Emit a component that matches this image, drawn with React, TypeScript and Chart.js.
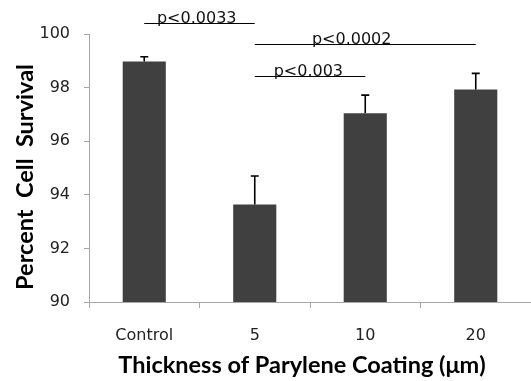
import React, { useEffect, useRef } from 'react';
import { Chart, registerables } from 'chart.js';
Chart.register(...registerables);

const categories = ['Control', '5', '10', '20'];
const survival = [98.97, 93.64, 97.04, 97.93];
const errorUpper = [0.18, 1.06, 0.68, 0.6];
const yMin = 90;
const yMax = 100;
const yStep = 2;
const sigLabels = ['p<0.0033', 'p<0.0002', 'p<0.003'];
const sigFrom = [0, 1, 1];
const sigTo = [1, 3, 2];
const sigLevel = [100.4, 99.62, 98.44];
const sigTextAt = [0.475, 1.877, 1.485];
const xTitle = 'Thickness of Parylene Coating (\u03bcm)';
const yTitle = 'Percent  Cell  Survival';

const TICK_FONT = '"DejaVu Sans"';
const TITLE_FONT = 'Lato';

const overlayPlugin = {
  id: 'overlay',
  afterDatasetsDraw(chart: any) {
    const ctx = chart.ctx;
    const meta = chart.getDatasetMeta(0);
    const ys = chart.scales.y;
    ctx.save();
    ctx.strokeStyle = '#000';
    ctx.lineWidth = 1.6;
    meta.data.forEach((bar: any, i: number) => {
      const top = ys.getPixelForValue(survival[i]);
      const et = ys.getPixelForValue(survival[i] + errorUpper[i]);
      ctx.beginPath();
      ctx.moveTo(bar.x, top);
      ctx.lineTo(bar.x, et);
      ctx.moveTo(bar.x - 4, et);
      ctx.lineTo(bar.x + 4, et);
      ctx.stroke();
    });
    ctx.restore();
  },
  afterDraw(chart: any) {
    const ctx = chart.ctx;
    const xs = chart.scales.x;
    const ys = chart.scales.y;
    ctx.save();
    // significance lines
    ctx.strokeStyle = '#000';
    ctx.lineWidth = 1;
    ctx.fillStyle = '#111';
    ctx.font = `16px ${TICK_FONT}`;
    ctx.textAlign = 'center';
    ctx.textBaseline = 'alphabetic';
    sigLabels.forEach((lab, i) => {
      const y = Math.round(ys.getPixelForValue(sigLevel[i])) + 0.5;
      const x1 = xs.getPixelForValue(sigFrom[i]);
      const x2 = xs.getPixelForValue(sigTo[i]);
      ctx.beginPath();
      ctx.moveTo(x1, y);
      ctx.lineTo(x2, y);
      ctx.stroke();
      ctx.fillText(lab, xs.getPixelForValue(sigTextAt[i]), y - 1);
    });
    // axis titles
    ctx.fillStyle = '#000';
    ctx.font = `bold 23.5px ${TITLE_FONT}`;
    ctx.textAlign = 'center';
    ctx.fillText(xTitle, 302, 373);
    ctx.translate(33, 177);
    ctx.rotate(-Math.PI / 2);
    ctx.fillText(yTitle, 0, 0);
    ctx.restore();
  },
};

export default function App() {
  const ref = useRef<HTMLCanvasElement>(null);
  useEffect(() => {
    if (!ref.current) return;
    const chart = new Chart(ref.current, {
      type: 'bar',
      data: {
        labels: categories,
        datasets: [
          {
            data: survival,
            backgroundColor: '#404040',
            borderWidth: 0,
            categoryPercentage: 1,
            barPercentage: 0.39,
          },
        ],
      },
      options: {
        responsive: false,
        animation: false,
        layout: { padding: { top: 34, left: 0, right: 0, bottom: 0 } },
        plugins: { legend: { display: false }, tooltip: { enabled: false }, title: { display: false } },
        scales: {
          x: {
            offset: true,
            grid: { display: true, drawOnChartArea: false, drawTicks: true, tickLength: 6, color: '#a6a6a6', offset: true },
            border: { color: '#a6a6a6', width: 1 },
            ticks: { color: '#222', font: { family: TICK_FONT, size: 16 }, padding: 18 },
            afterFit: (s: any) => { s.height = 79; },
          },
          y: {
            min: yMin,
            max: yMax,
            grid: { display: true, drawOnChartArea: false, drawTicks: true, tickLength: 5, color: '#a6a6a6' },
            border: { color: '#a6a6a6', width: 1 },
            ticks: { stepSize: yStep, color: '#222', font: { family: TICK_FONT, size: 16 }, padding: 14 },
            afterFit: (s: any) => { s.width = 89; },
          },
        },
      },
      plugins: [overlayPlugin],
    });
    return () => chart.destroy();
  }, []);
  return (
    <div style={{ position: 'absolute', left: 0, top: 0, width: 531, height: 381, background: '#fff' }}>
      <canvas ref={ref} width={531} height={381} style={{ display: 'block' }} />
    </div>
  );
}
